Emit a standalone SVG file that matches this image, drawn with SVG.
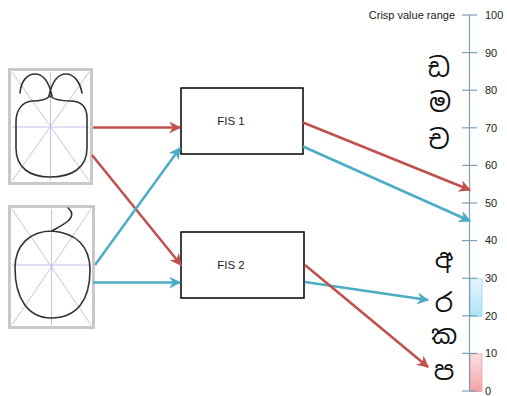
<svg xmlns="http://www.w3.org/2000/svg" width="507" height="396" viewBox="0 0 507 396">
<defs>
<style>
.lbl{font-family:"Liberation Sans",Arial,sans-serif;fill:#222}
.num{font-family:"Liberation Sans",Arial,sans-serif;font-size:11px;fill:#222}
.sin{font-family:"Noto Sans Sinhala","Iskoola Pota","Noto Sans",sans-serif;font-size:26px;fill:#111;text-anchor:middle}
.frame{fill:#fff;stroke:#c8c8c8;stroke-width:3}
.guide{stroke:#bcbce6;stroke-width:0.9;fill:none}
.glyph{fill:none;stroke:#333;stroke-width:1.6;stroke-linecap:round;stroke-linejoin:round}
.box{fill:#fff;stroke:#000;stroke-width:1.5}
.red{stroke:#c0504d;stroke-width:2.5;fill:none}
.blue{stroke:#4bacc6;stroke-width:2.5;fill:none}
.tick{stroke:#7f9fb5;stroke-width:1.2}
</style>
<marker id="ar" viewBox="0 0 10 10" refX="9" refY="5" markerWidth="12" markerHeight="12" markerUnits="userSpaceOnUse" orient="auto">
<path d="M0,0 L10,5 L0,10 L3,5 z" fill="#c0504d"/>
</marker>
<marker id="ab" viewBox="0 0 10 10" refX="9" refY="5" markerWidth="12" markerHeight="12" markerUnits="userSpaceOnUse" orient="auto">
<path d="M0,0 L10,5 L0,10 L3,5 z" fill="#4bacc6"/>
</marker>
<linearGradient id="gb" x1="0" y1="0" x2="0" y2="1">
<stop offset="0" stop-color="#e6f6fd"/><stop offset="1" stop-color="#aee3f6"/>
</linearGradient>
<linearGradient id="gr" x1="0" y1="0" x2="0" y2="1">
<stop offset="0" stop-color="#fbe0e2"/><stop offset="1" stop-color="#f2a2a6"/>
</linearGradient>
</defs>

<g id="input1">
<rect class="frame" x="9.5" y="69.5" width="82" height="114"/>
<path class="guide" d="M12,72 L89,181 M89,72 L12,181 M50.5,72 L50.5,181 M12,127 L89,127"/>
<path class="glyph" d="M20,93 C21,80 28,74 35,74 C43,74 49,82 52,96 M49,96 C52,82 58,74 66,74 C74,74 80,82 82,93"/>
<path class="glyph" d="M50,96 C46,100 40,101 32,101 C22,102 16,110 16,122 L16,148 C16,168 30,177 50,177 C72,177 87,168 87,148 L87,118 C87,107 81,101 70,101 C62,101 55,100 50,96 z"/>
</g>

<g id="input2">
<rect class="frame" x="9.5" y="206.5" width="84" height="121"/>
<path class="guide" d="M12,209 L91,325 M91,209 L12,325 M51.5,209 L51.5,325 M12,265 L91,265"/>
<path class="glyph" d="M68,208 C73,212 73,216 68,221 C62,226 55,229 52,231 C30,231 15,245 15,268 C15,298 28,318 51,318 C77,318 90,300 90,270 C90,246 76,233 52,231"/>
</g>

<g id="fis1">
<rect class="box" x="181" y="88" width="122" height="66"/>
<text class="lbl" x="231" y="125" font-size="11.5" text-anchor="middle">FIS 1</text>
</g>

<g id="fis2">
<rect class="box" x="181" y="232" width="123" height="66"/>
<text class="lbl" x="231" y="269" font-size="11.5" text-anchor="middle">FIS 2</text>
</g>

<g id="scale">
<text class="lbl" x="455" y="19" font-size="11" text-anchor="end">Crisp value range</text>
<rect x="470" y="278.8" width="12" height="37.6" fill="url(#gb)" stroke="#8fd3ea" stroke-width="0.8"/>
<rect x="470" y="353.9" width="12" height="37.6" fill="url(#gr)" stroke="#ee9da2" stroke-width="0.8"/>
<line class="tick" x1="469.5" y1="15" x2="469.5" y2="391.5"/>
<g class="tick">
<line x1="462" y1="15" x2="477" y2="15"/>
<line x1="462" y1="52.6" x2="477" y2="52.6"/>
<line x1="462" y1="90.2" x2="477" y2="90.2"/>
<line x1="462" y1="127.8" x2="477" y2="127.8"/>
<line x1="462" y1="165.4" x2="477" y2="165.4"/>
<line x1="462" y1="203" x2="477" y2="203"/>
<line x1="462" y1="240.6" x2="477" y2="240.6"/>
<line x1="462" y1="278.2" x2="477" y2="278.2"/>
<line x1="462" y1="315.8" x2="477" y2="315.8"/>
<line x1="462" y1="353.4" x2="477" y2="353.4"/>
<line x1="462" y1="391" x2="477" y2="391"/>
</g>
<text class="num" x="485" y="19">100</text>
<text class="num" x="485" y="57">90</text>
<text class="num" x="485" y="94">80</text>
<text class="num" x="485" y="132">70</text>
<text class="num" x="485" y="169">60</text>
<text class="num" x="485" y="207">50</text>
<text class="num" x="485" y="244">40</text>
<text class="num" x="485" y="282">30</text>
<text class="num" x="485" y="320">20</text>
<text class="num" x="485" y="357">10</text>
<text class="num" x="485" y="395">0</text>
</g>

<g id="outputs">
<text class="sin" x="439" y="77">ඩ</text>
<text class="sin" x="440" y="112">ම</text>
<text class="sin" x="439" y="149">ච</text>
<text class="sin" x="444" y="268">අ</text>
<text class="sin" x="444" y="312">ර</text>
<text class="sin" x="444" y="344">ක</text>
<text class="sin" x="444" y="380">ප</text>
</g>

<g id="connectors">
<line class="red" x1="93" y1="127.5" x2="180" y2="127.5" marker-end="url(#ar)"/>
<line class="red" x1="92" y1="155" x2="181" y2="265" marker-end="url(#ar)"/>
<line class="blue" x1="95" y1="265" x2="180" y2="148" marker-end="url(#ab)"/>
<line class="blue" x1="93" y1="282.5" x2="180" y2="282.5" marker-end="url(#ab)"/>
<line class="red" x1="303" y1="122.5" x2="470" y2="190" marker-end="url(#ar)"/>
<line class="blue" x1="303" y1="146.5" x2="470" y2="221" marker-end="url(#ab)"/>
<line class="blue" x1="305" y1="282" x2="428" y2="300" marker-end="url(#ab)"/>
<line class="red" x1="305" y1="265" x2="428" y2="367" marker-end="url(#ar)"/>
</g>
</svg>
